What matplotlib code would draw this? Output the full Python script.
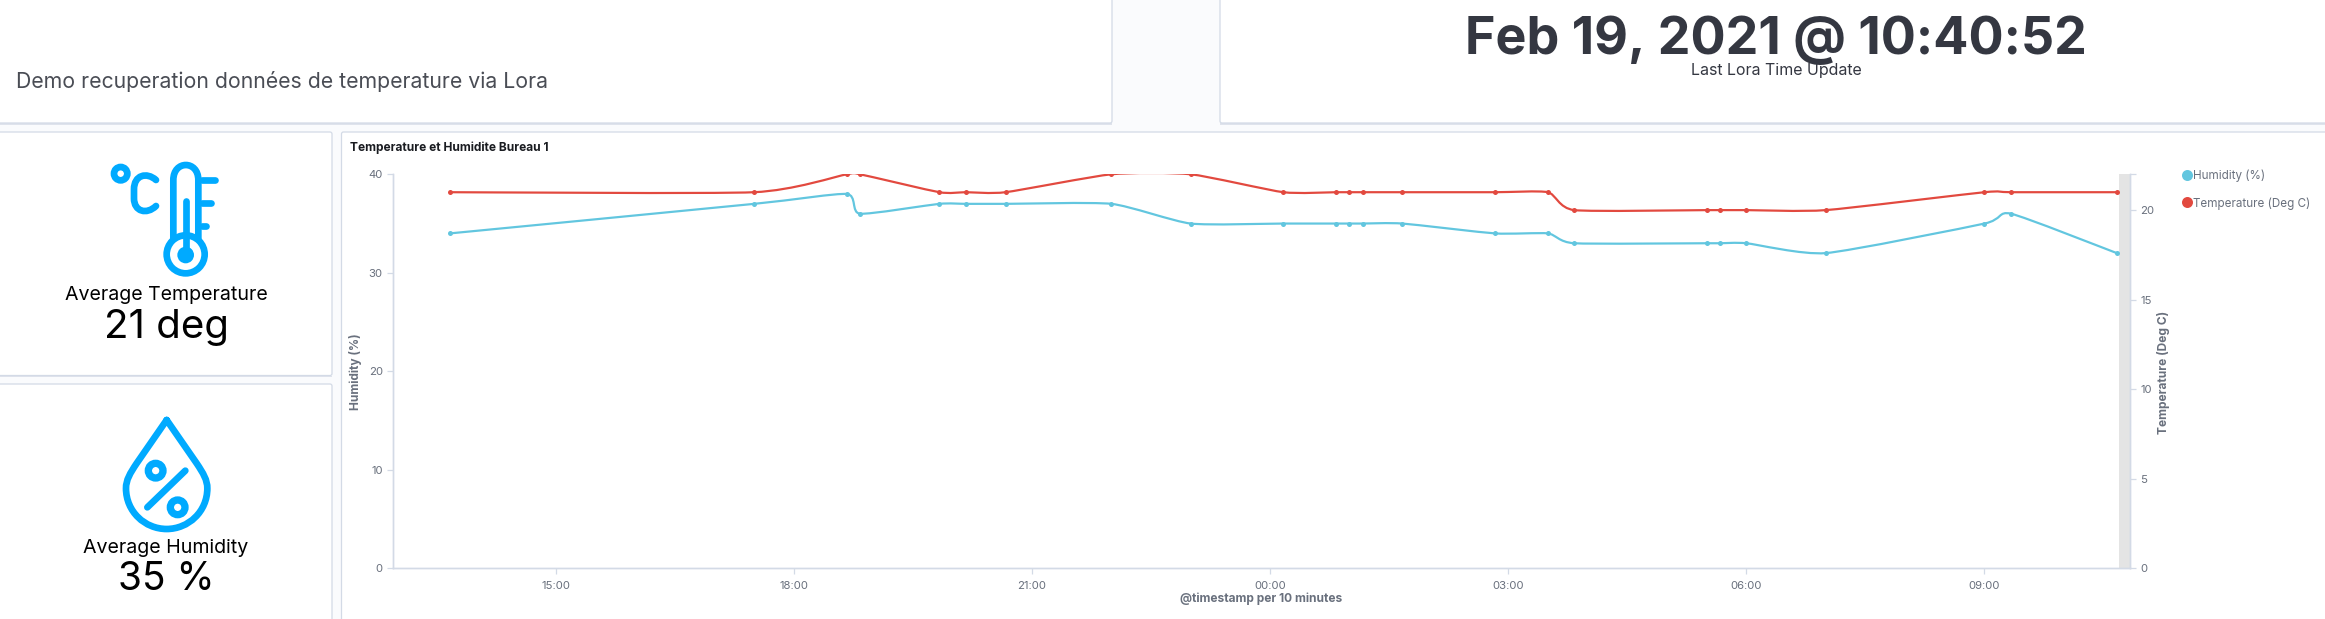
import pandas as pd
import matplotlib
matplotlib.use("Agg")
import matplotlib.pyplot as plt
import matplotlib.dates as mdates
from matplotlib.lines import Line2D
from matplotlib.path import Path
from matplotlib.patches import PathPatch, Circle, FancyBboxPatch, Rectangle

plt.rcParams['font.family'] = ['Inter', 'DejaVu Sans']

# ---- data ----
times = ["2021-02-18 13:40", "2021-02-18 17:30", "2021-02-18 18:40", "2021-02-18 18:50",
         "2021-02-18 19:50", "2021-02-18 20:10", "2021-02-18 20:40", "2021-02-18 22:00",
         "2021-02-18 23:00", "2021-02-19 00:10", "2021-02-19 00:50", "2021-02-19 01:00",
         "2021-02-19 01:10", "2021-02-19 01:40", "2021-02-19 02:50", "2021-02-19 03:30",
         "2021-02-19 03:50", "2021-02-19 05:30", "2021-02-19 05:40", "2021-02-19 06:00",
         "2021-02-19 07:00", "2021-02-19 09:00", "2021-02-19 09:20", "2021-02-19 10:40"]
humidity = [34, 37, 38, 36, 37, 37, 37, 37, 35, 35, 35, 35, 35, 35, 34, 34, 33, 33, 33, 33, 32, 35, 36, 32]
temperature = [21, 21, 22, 22, 21, 21, 21, 22, 22, 21, 21, 21, 21, 21, 21, 21, 20, 20, 20, 20, 20, 21, 21, 21]
humidity_label = "Humidity (%)"
temperature_label = "Temperature (Deg C)"
x_ticks = ["2021-02-18 15:00", "2021-02-18 18:00", "2021-02-18 21:00", "2021-02-19 00:00",
           "2021-02-19 03:00", "2021-02-19 06:00", "2021-02-19 09:00"]
x_tick_labels = ["15:00", "18:00", "21:00", "00:00", "03:00", "06:00", "09:00"]
x_range = ["2021-02-18 12:57", "2021-02-19 10:50"]
band_start = "2021-02-19 10:42"
left_ticks = [0, 10, 20, 30, 40]
right_ticks = [0, 5, 10, 15, 20]

W, H = 2325, 619
BLUE, RED = "#62C6DF", "#E2493F"
ICON = "#00AAFF"
GREY = "#69707D"
EDGE = "#D3DAE6"
DARK = "#343741"
px = 0.72  # points per pixel at dpi 100

fig = plt.figure(figsize=(W / 100, H / 100), dpi=100, facecolor="#FAFBFD")

# page layer in pixel coordinates: panels, icons, text
bg = fig.add_axes([0, 0, 1, 1], zorder=0)
bg.set_xlim(0, W)
bg.set_ylim(H, 0)
bg.axis("off")


def panel(x0, y0, x1, y1):
    bg.add_patch(Rectangle((x0, y1), x1 - x0, 1.5, fc="#DFE3EC", ec="none"))
    bg.add_patch(FancyBboxPatch((x0, y0), x1 - x0, y1 - y0, boxstyle="round,pad=0,rounding_size=2",
                                fc="white", ec=EDGE, lw=0.9))


panel(-6, -10, 1112, 123)
panel(1220, -10, W + 6, 123)
panel(-6, 132, 332, 375.5)
panel(-6, 384, 332, H + 10)
panel(341.5, 132, W + 6, H + 10)


def Z(x, y):
    """Icon sketch coordinates -> page pixels."""
    return x / 3, 130 + y / 3


def stroke(pts, codes=None, lw=6.7, fill="none"):
    pts = [Z(*p) for p in pts]
    bg.add_patch(PathPatch(Path(pts, codes), fc=fill, ec=ICON, lw=lw * px, capstyle="round", joinstyle="round"))


def ring(x, y, r, lw=6.7):
    cx, cy = Z(x, y)
    bg.add_patch(Circle((cx, cy), r / 3, fc="none", ec=ICON, lw=lw * px))


M, L, C = Path.MOVETO, Path.LINETO, Path.CURVE4
# thermometer icon
ring(362, 131, 20)
stroke([(468, 150), (440, 125), (402, 135), (402, 178), (402, 205), (402, 245), (440, 255), (468, 228)],
       [M, C, C, C, L, C, C, C])
stroke([(520, 325), (520, 150), (520, 90), (595, 90), (595, 150), (595, 325)], [M, L, C, C, C, L])
ring(557, 373, 57)
stroke([(557, 213), (557, 370)])
cx, cy = Z(557, 375)
bg.add_patch(Circle((cx, cy), 25 / 3, fc=ICON, ec="none"))
stroke([(605, 151), (645, 151)])
stroke([(605, 220), (632, 220)])
stroke([(605, 288), (618, 288)])
# droplet icon
stroke([(500, 870), (410, 1000), (390, 1030), (378, 1050), (378, 1075), (378, 1145), (435, 1197), (500, 1197),
        (565, 1197), (622, 1145), (622, 1075), (622, 1050), (610, 1030), (590, 1000), (500, 870)],
       [M, L, C, C, C, C, C, C, C, C, C, C, C, C, L])
ring(467, 1022, 22, 7.3)
ring(533, 1132, 22, 7.3)
stroke([(442, 1132), (556, 1022)])

bg.text(16, 81, "Demo recuperation données de temperature via Lora", fontsize=15.3, color="#4A4D55",
        ha="left", va="center")
bg.text(1776, 40, "Feb 19, 2021 @ 10:40:52", fontsize=37.5, fontweight="bold", color=DARK, ha="center", va="center")
bg.text(1776, 70, "Last Lora Time Update", fontsize=11.5, color=DARK, ha="center", va="center")
bg.text(166, 295, "Average Temperature", fontsize=14.1, color="black", ha="center", va="center")
bg.text(166, 328, "21 deg", fontsize=29, color="black", ha="center", va="center")
bg.text(166, 548, "Average Humidity", fontsize=14.1, color="black", ha="center", va="center")
bg.text(166, 579, "35 %", fontsize=28, color="black", ha="center", va="center")
bg.text(350, 148, "Temperature et Humidite Bureau 1", fontsize=8.6, fontweight="bold", color="#1A1C21",
        ha="left", va="center")

# chart
AX_L, AX_R, AX_T, AX_B = 393, 2130, 174.3, 568.3
ax = fig.add_axes([AX_L / W, 1 - AX_B / H, (AX_R - AX_L) / W, (AX_B - AX_T) / H], zorder=2)
ax.patch.set_alpha(0)
ax2 = ax.twinx()
ax2.set_zorder(3)
ax2.patch.set_alpha(0)

t = mdates.date2num(pd.to_datetime(times))
xlim = mdates.date2num(pd.to_datetime(x_range))


def cardinal(axis, xs, ys, color, tension=0.7):
    """Kibana's smoothed line: a cardinal spline through the values."""
    a = (1 - tension) / 2
    n = len(xs)
    tx = [a * (xs[min(i + 1, n - 1)] - xs[max(i - 1, 0)]) for i in range(n)]
    ty = [a * (ys[min(i + 1, n - 1)] - ys[max(i - 1, 0)]) for i in range(n)]
    verts, codes = [(xs[0], ys[0])], [Path.MOVETO]
    for i in range(n - 1):
        verts += [(xs[i] + tx[i] * 2 / 3, ys[i] + ty[i] * 2 / 3),
                  (xs[i + 1] - tx[i + 1] * 2 / 3, ys[i + 1] - ty[i + 1] * 2 / 3),
                  (xs[i + 1], ys[i + 1])]
        codes += [Path.CURVE4] * 3
    axis.add_patch(PathPatch(Path(verts, codes), fc="none", ec=color, lw=2.2 * px))
    axis.plot(xs, ys, ls="none", marker="o", ms=5 * px, color=color, mew=0)


ax.axvspan(mdates.date2num(pd.Timestamp(band_start)), xlim[1], color="#E4E4E4", lw=0)
cardinal(ax, t, humidity, BLUE)
cardinal(ax2, t, temperature, RED)

ax.set_xlim(*xlim)
ax.set_ylim(0, 40)
ax2.set_ylim(0, 22)

ax.set_xticks(mdates.date2num(pd.to_datetime(x_ticks)))
ax.set_xticklabels(x_tick_labels)
ax.set_yticks(left_ticks)
ax2.set_yticks(right_ticks)
ax2.set_yticks([22], minor=True)
ax.tick_params(axis="both", colors=EDGE, labelcolor=GREY, labelsize=8.2, length=6 * px, width=0.9, pad=3)
ax.tick_params(axis="x", pad=5)
ax2.tick_params(axis="y", which="both", colors=EDGE, labelcolor=GREY, labelsize=8.2, length=6 * px, width=0.9, pad=3)
for a in (ax, ax2):
    a.spines["top"].set_visible(False)
    for s in ("left", "right", "bottom"):
        a.spines[s].set_color(EDGE)
        a.spines[s].set_linewidth(1.0)

bg.text(1261, 599, "@timestamp per 10 minutes", fontsize=8.6, fontweight="bold", color=GREY, ha="center", va="center")
bg.text(356, 372, humidity_label, fontsize=8.6, fontweight="bold", color=GREY, rotation=90, ha="center", va="center")
bg.text(2163, 372, temperature_label, fontsize=8.6, fontweight="bold", color=GREY, rotation=90, ha="center", va="center")

handles = [Line2D([], [], ls="none", marker="o", ms=11 * px, color=BLUE, mew=0, label=humidity_label),
           Line2D([], [], ls="none", marker="o", ms=11 * px, color=RED, mew=0, label=temperature_label)]
fig.legend(handles=handles, loc="upper left", bbox_to_anchor=(2181 / W, 1 - 170 / H), frameon=False,
           fontsize=8.4, labelcolor=GREY, handletextpad=0.0, labelspacing=1.25, handlelength=1.0,
           borderaxespad=0, borderpad=0)

fig.savefig("out.png", dpi=100, facecolor=fig.get_facecolor())
